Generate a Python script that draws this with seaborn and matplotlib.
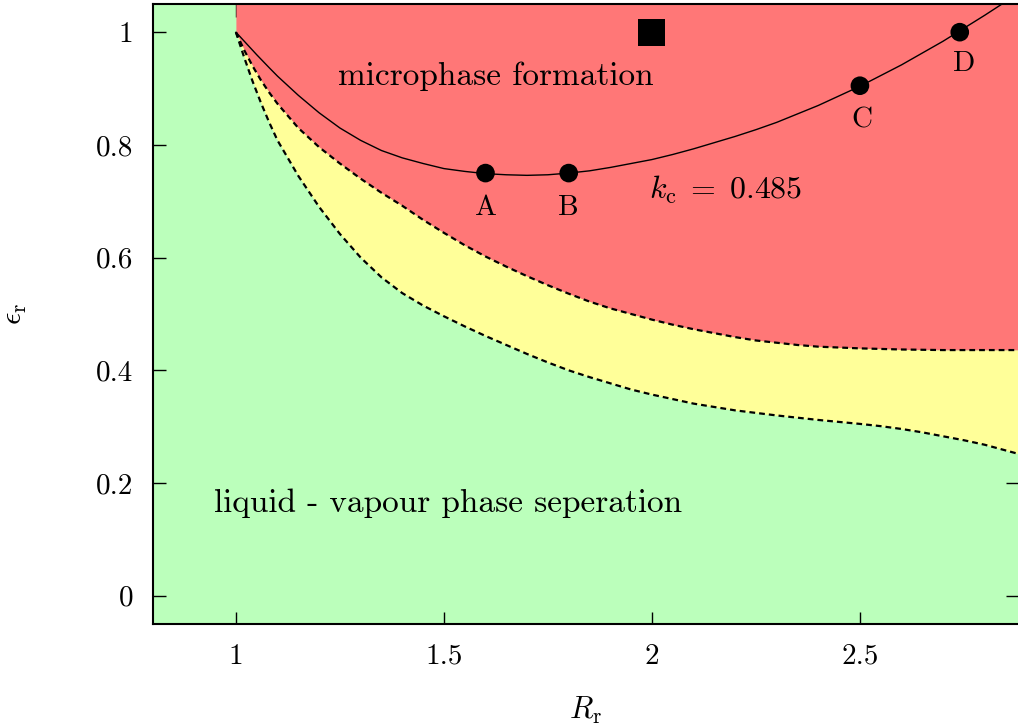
import numpy as np
import pandas as pd
import matplotlib
matplotlib.use("Agg")
import matplotlib.pyplot as plt
import seaborn as sns

# ---- data ----
upper_x = [1.0, 1.02, 1.04, 1.06, 1.08, 1.10, 1.15, 1.2, 1.25, 1.3, 1.35, 1.4, 1.45, 1.5,
           1.55, 1.6, 1.65, 1.7, 1.75, 1.8, 1.85, 1.9, 1.95, 2.0, 2.05, 2.1, 2.15, 2.2,
           2.25, 2.3, 2.35, 2.4, 2.5, 2.6, 2.7, 2.8, 2.88]
upper_y = [1.0, 0.968, 0.940, 0.915, 0.893, 0.873, 0.830, 0.796, 0.767, 0.740, 0.715,
           0.692, 0.667, 0.644, 0.622, 0.602, 0.584, 0.567, 0.551, 0.536, 0.522, 0.510,
           0.500, 0.490, 0.481, 0.473, 0.466, 0.459, 0.453, 0.449, 0.445, 0.442, 0.439,
           0.437, 0.436, 0.436, 0.436]

lower_x = [1.0, 1.02, 1.04, 1.06, 1.08, 1.10, 1.15, 1.2, 1.25, 1.3, 1.35, 1.4, 1.45, 1.5,
           1.55, 1.6, 1.65, 1.7, 1.75, 1.8, 1.85, 1.9, 1.95, 2.0, 2.05, 2.1, 2.15, 2.2,
           2.3, 2.4, 2.5, 2.55, 2.6, 2.65, 2.7, 2.75, 2.8, 2.88]
lower_y = [1.0, 0.955, 0.913, 0.875, 0.840, 0.808, 0.745, 0.690, 0.642, 0.600, 0.565,
           0.537, 0.515, 0.496, 0.478, 0.461, 0.445, 0.429, 0.414, 0.400, 0.388, 0.377,
           0.366, 0.357, 0.349, 0.341, 0.335, 0.329, 0.320, 0.312, 0.305, 0.301, 0.296,
           0.290, 0.283, 0.276, 0.268, 0.252]

kc_x = [1.0, 1.02, 1.05, 1.08, 1.10, 1.15, 1.2, 1.25, 1.3, 1.35, 1.4, 1.45, 1.5, 1.55,
        1.6, 1.65, 1.7, 1.75, 1.8, 1.85, 1.9, 1.95, 2.0, 2.05, 2.1, 2.15, 2.2, 2.25, 2.3,
        2.35, 2.4, 2.45, 2.5, 2.55, 2.6, 2.65, 2.7, 2.75, 2.8, 2.85, 2.9]
kc_y = [1.0, 0.984, 0.960, 0.937, 0.922, 0.888, 0.857, 0.830, 0.808, 0.790, 0.777, 0.767,
        0.758, 0.753, 0.749, 0.747, 0.746, 0.747, 0.750, 0.754, 0.760, 0.767, 0.774, 0.783,
        0.793, 0.804, 0.815, 0.827, 0.840, 0.855, 0.870, 0.887, 0.904, 0.923, 0.942, 0.963,
        0.984, 1.007, 1.030, 1.054, 1.078]

pt_labels = ["A", "B", "C", "D"]
pt_x = [1.6, 1.8, 2.5, 2.74]
pt_y = [0.75, 0.75, 0.905, 1.0]

square_x = [2.0]
square_y = [1.0]

xticks = [1, 1.5, 2, 2.5]
xticklabels = ["1", "1.5", "2", "2.5"]
yticks = [0, 0.2, 0.4, 0.6, 0.8, 1]
yticklabels = ["0", "0.2", "0.4", "0.6", "0.8", "1"]

# ---- style ----
sns.set_style("ticks")
plt.rcParams["font.family"] = ["cmr10", "DejaVu Serif"]
plt.rcParams["mathtext.fontset"] = "cm"
plt.rcParams["axes.formatter.use_mathtext"] = True
plt.rcParams["axes.unicode_minus"] = False
for k in ["text.color", "axes.labelcolor", "xtick.color", "ytick.color"]:
    plt.rcParams[k] = "black"

RED = "#ff7777"
YELLOW = "#ffff99"
GREEN = "#bbffbb"
FS_TICK = 21
FS_TEXT = 24
FS_PT = 21

fig = plt.figure(figsize=(10.18, 7.27), dpi=100)
ax = fig.add_axes([0.150, 0.1417, 0.850, 0.8528])
ax.set_xlim(0.8, 2.88)
ax.set_ylim(-0.05, 1.05)
ax.set_facecolor(GREEN)

upper = pd.DataFrame({"x": upper_x, "y": upper_y})
lower = pd.DataFrame({"x": lower_x, "y": lower_y})
kc = pd.DataFrame({"x": kc_x, "y": kc_y})

ax.fill_between(upper["x"], upper["y"], 1.05, color=RED, linewidth=0, zorder=1)
ax.fill_between(lower["x"], lower["y"], np.interp(lower["x"], upper["x"], upper["y"]),
                color=YELLOW, linewidth=0, zorder=1)

sns.lineplot(data=upper, x="x", y="y", ax=ax, color="black", lw=1.6, sort=False,
             linestyle=(0, (2.6, 1.8)), zorder=3)
sns.lineplot(data=lower, x="x", y="y", ax=ax, color="black", lw=1.6, sort=False,
             linestyle=(0, (2.6, 1.8)), zorder=3)
sns.lineplot(data=kc, x="x", y="y", ax=ax, color="black", lw=1.0, sort=False, zorder=3)

pts = pd.DataFrame({"x": pt_x, "y": pt_y, "label": pt_labels})
sns.scatterplot(data=pts, x="x", y="y", ax=ax, color="black", s=180, edgecolor="none",
                zorder=4, clip_on=False)
sq = pd.DataFrame({"x": square_x, "y": square_y})
sns.scatterplot(data=sq, x="x", y="y", ax=ax, color="black", marker="s", s=380,
                edgecolor="none", zorder=4)

label_offsets = {"A": (0.0, -0.062), "B": (0.0, -0.062), "C": (0.005, -0.062), "D": (0.01, -0.057)}
for lab, x, y in zip(pt_labels, pt_x, pt_y):
    dx, dy = label_offsets[lab]
    ax.text(x + dx, y + dy, lab, ha="center", va="center", fontsize=FS_PT, zorder=5)

ax.text(1.625, 0.922, "microphase formation", ha="center", va="center", fontsize=FS_TEXT, zorder=5)
ax.text(2.178, 0.72, r"$k_\mathrm{c}\;=\;0.485$", ha="center", va="center",
        fontsize=FS_TEXT - 1, zorder=5)
ax.text(1.51, 0.165, "liquid - vapour phase seperation", ha="center", va="center",
        fontsize=FS_TEXT, zorder=5)

ax.set_xticks(xticks)
ax.set_xticklabels(xticklabels)
ax.set_yticks(yticks)
ax.set_yticklabels(yticklabels)
ax.tick_params(direction="in", length=9, width=1.0, labelsize=FS_TICK, top=True, right=True,
               pad=14, colors="black")
ax.tick_params(axis="x", pad=14)

ax.set_xlabel(r"$R_\mathrm{r}$", fontsize=22, labelpad=18)
ax.set_ylabel(r"$\epsilon_\mathrm{r}$", fontsize=22, labelpad=48)

for s in ["left", "bottom", "top"]:
    ax.spines[s].set_linewidth(1.5)
    ax.spines[s].set_color("black")
    ax.spines[s].set_zorder(6)
ax.spines["right"].set_visible(False)

fig.savefig("out.png", dpi=100)
